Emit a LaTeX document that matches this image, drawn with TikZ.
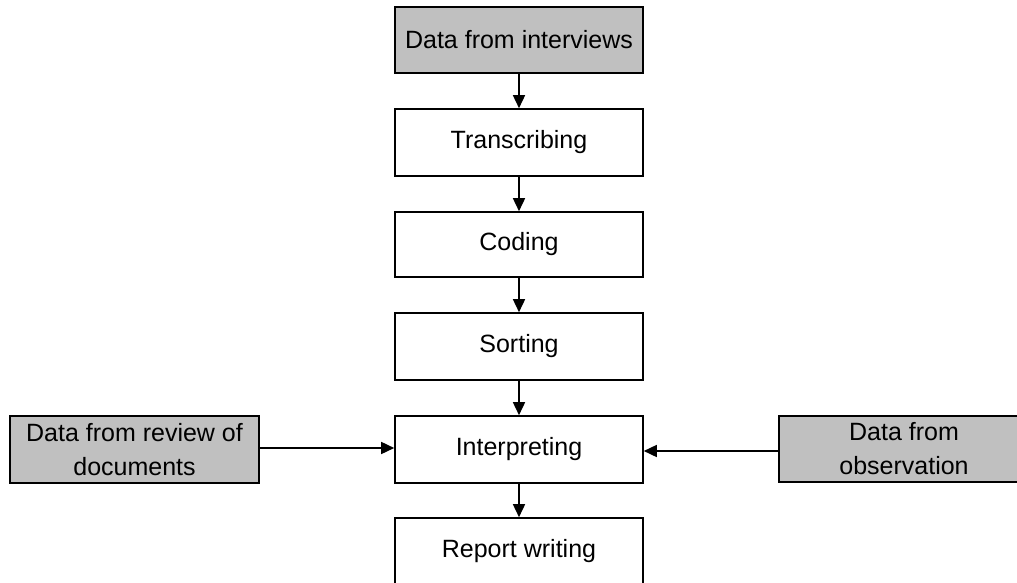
\documentclass[tikz,border=0pt]{standalone}
\usepackage{fontspec}
\setmainfont{Liberation Sans}
\usetikzlibrary{arrows.meta}
\definecolor{boxgray}{HTML}{C0C0C0}
\tikzset{
  stepbox/.style={draw=black, line width=1.6pt, fill=white, minimum width=248pt, minimum height=66pt, inner sep=0pt, align=center, font=\fontsize{25}{34}\selectfont},
  databox/.style={stepbox, fill=boxgray},
  flow/.style={line width=1.6pt, -{Triangle[length=13pt,width=12pt]}}
}
\begin{document}
\begin{tikzpicture}[x=1pt,y=-1pt]
\useasboundingbox (0,0) rectangle (1017,583);
\clip (0,0) rectangle (1017,583);
\node[databox, minimum height=66pt] (intv) at (519,40) {Data from interviews};
\node[stepbox, minimum height=67pt] (trans) at (519,142.5) {Transcribing};
\node[stepbox, minimum height=65pt] (cod) at (519,244.5) {Coding};
\node[stepbox, minimum height=67pt] (sort) at (519,346.5) {Sorting};
\node[stepbox, minimum height=67pt] (interp) at (519,449.5) {Interpreting};
\node[stepbox, minimum height=67pt] (rep) at (519,551.5) {Report writing};
\node[databox, minimum width=249pt, minimum height=67pt] (docs) at (134.5,449.5) {Data from review of\\documents};
\node[databox, minimum width=250pt, minimum height=66pt] (obs) at (904,449) {Data from\\observation};
\draw[flow] (intv) -- (trans);
\draw[flow] (trans) -- (cod);
\draw[flow] (cod) -- (sort);
\draw[flow] (sort) -- (interp);
\draw[flow] (interp) -- (rep);
\draw[flow] ([yshift=1.5pt]docs.east) -- ([yshift=1.5pt]docs.east -| interp.west);
\draw[flow] ([yshift=-2pt]obs.west) -- ([yshift=-2pt]obs.west -| interp.east);
\end{tikzpicture}
\end{document}
